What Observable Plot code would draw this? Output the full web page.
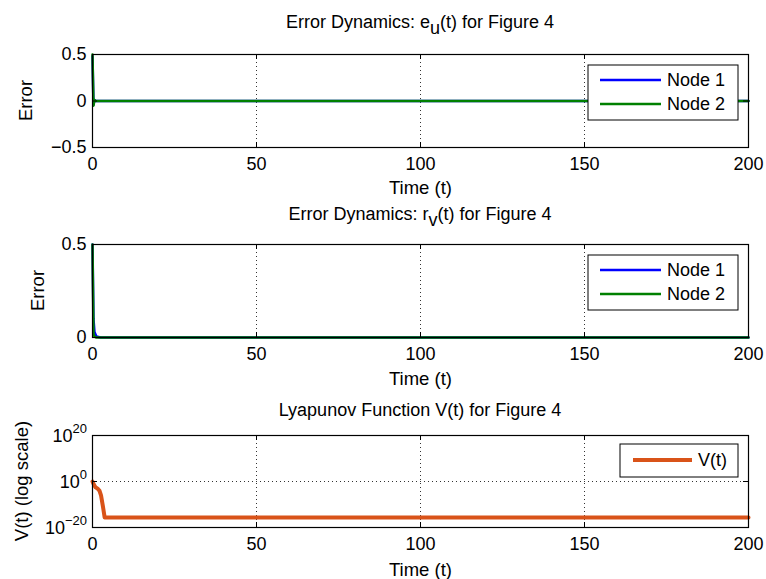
<!DOCTYPE html>
<html>
<head>
<meta charset="utf-8">
<script src="https://cdn.jsdelivr.net/npm/d3@7"></script>
<script src="https://cdn.jsdelivr.net/npm/@observablehq/plot@0.6"></script>
<style>
  html, body { margin: 0; padding: 0; background: #fff; }
  #wrap { position: relative; width: 766px; height: 579px; }
  #wrap > svg { display: block; }
</style>
</head>
<body>
<div id="wrap"></div>
<script>
// ---- data ----
const xTicks = [0, 50, 100, 150, 200];

// panel 1: e_u(t)
const tE = [0, 0.3, 0.6, 1.0, 2.0, 5.0, 200];
const eNode1 = [0.48, -0.04, 0.01, 0, 0, 0, 0];
const eNode2 = [0.5, -0.05, 0.01, 0, 0, 0, 0];
const yTicksE = [-0.5, 0, 0.5];
const yLabelsE = ["\u22120.5", "0", "0.5"];

// panel 2: r_v(t)
const tR = [0, 0.3, 0.6, 1.2, 2.5, 200];
const rNode1 = [0.5, 0.1, 0.03, 0.005, 0, 0];
const rNode2 = [0.5, 0.02, 0.005, 0, 0, 0];
const yTicksR = [0, 0.5];
const yLabelsR = ["0", "0.5"];

// panel 3: Lyapunov V(t)
const tV = [0, 0.4, 0.9, 1.5, 2.1, 2.6, 3.2, 3.7, 200];
const vVals = [1, 0.05, 3e-3, 1e-3, 1.2e-4, 1e-6, 1e-11, 2.5e-16, 2.5e-16];
const yTicksV = [1e-20, 1, 1e20];
const yExpV = ["\u221220", "0", "20"];

const FONT = "'Liberation Sans', Arial, Helvetica, sans-serif";
const W = 766, ML = 92, MR = 18;
const BLUE = "#0000ff", GREEN = "#008000", ORANGE = "#d95319";
const TICK_FS = 18, LABEL_FS = 18.5, TITLE_FS = 18, LEG_FS = 18;

const wrap = document.getElementById("wrap");

function panel({height, mt, mb, labelDy, y, yTicks, yLabels, series, title, ylabel, ylabelX, legend, legendBox, customY}) {
  const h = height - mt - mb;
  const w = W - ML - MR;
  const marks = [
    Plot.ruleX(xTicks.slice(1, -1), {stroke: "#000", strokeWidth: 0.8, strokeDasharray: "1,3"}),
    Plot.ruleY(yTicks.filter(v => v !== y.domain[0] && v !== y.domain[1]), {stroke: "#000", strokeWidth: 0.8, strokeDasharray: "1,3"}),
  ];
  for (const s of series) {
    const data = s.t.map((t, i) => ({t, v: s.v[i]}));
    marks.push(Plot.line(data, {x: "t", y: "v", stroke: s.color, strokeWidth: s.width}));
  }
  marks.push(
    Plot.tickX(xTicks, {x: d => d, insetTop: h - 5, stroke: "#000"}),
    Plot.tickX(xTicks, {x: d => d, insetBottom: h - 5, stroke: "#000"}),
    Plot.tickY(yTicks, {y: d => d, insetRight: w - 5, stroke: "#000"}),
    Plot.tickY(yTicks, {y: d => d, insetLeft: w - 5, stroke: "#000"}),
    Plot.frame({stroke: "#000", strokeWidth: 1.2}),
    Plot.text(["Time (t)"], {frameAnchor: "bottom", text: d => d, dy: labelDy, fontSize: LABEL_FS, lineAnchor: "bottom", fill: "#000"})
  );
  const plot = Plot.plot({
    width: W, height,
    marginLeft: ML, marginRight: MR, marginTop: mt, marginBottom: mb,
    style: {fontFamily: FONT, fontSize: TICK_FS + "px", color: "#000", background: "#fff", overflow: "visible"},
    x: {domain: [0, 200], ticks: xTicks, tickSize: 0, tickPadding: 10, label: null, tickFormat: d => String(d)},
    y: Object.assign({ticks: yTicks, tickSize: 0, tickPadding: 6, label: null,
        tickFormat: customY ? () => "" : (d => yLabels[yTicks.indexOf(d)])}, y),
    marks
  });
  const svg = d3.select(plot);
  const ys = plot.scale("y");
  if (customY) {
    yTicks.forEach((v, i) => {
      const t = svg.append("text").attr("x", ML - 5).attr("y", ys.apply(v) + 7)
        .attr("text-anchor", "end").style("font-family", FONT).style("font-size", TICK_FS + "px");
      t.append("tspan").text("10");
      t.append("tspan").attr("dy", -9).style("font-size", "13px").text(customY[i]);
    });
  }
  // title
  const tt = svg.append("text").attr("x", ML + w / 2).attr("y", title.y)
    .attr("text-anchor", "middle").style("font-family", FONT).style("font-size", TITLE_FS + "px");
  title.parts.forEach(p => {
    if (p.sub) tt.append("tspan").attr("dy", 6).text(p.sub);
    else if (p.after) tt.append("tspan").attr("dy", -6).text(p.text);
    else tt.append("tspan").text(p.text);
  });
  // y label
  svg.append("text").attr("transform", `translate(${ylabelX},${mt + h / 2}) rotate(-90)`)
    .attr("text-anchor", "middle").attr("dy", "0.35em")
    .style("font-family", FONT).style("font-size", LABEL_FS + "px").text(ylabel);
  // legend
  const g = svg.append("g");
  g.append("rect").attr("x", legendBox.x).attr("y", legendBox.y).attr("width", legendBox.w).attr("height", legendBox.h)
    .attr("fill", "#fff").attr("stroke", "#000").attr("stroke-width", 1);
  legend.forEach((l, i) => {
    const yy = legendBox.y + l.dy + i * 24;
    g.append("line").attr("x1", legendBox.x + l.x1).attr("x2", legendBox.x + l.x2).attr("y1", yy).attr("y2", yy)
      .attr("stroke", l.color).attr("stroke-width", l.width);
    g.append("text").attr("x", legendBox.x + l.x2 + 6).attr("y", yy).attr("dy", "0.36em")
      .attr("text-anchor", "start")
      .style("font-family", FONT).style("font-size", LEG_FS + "px").text(l.label);
  });
  wrap.appendChild(plot);
}

panel({
  height: 193, mt: 54, mb: 46, labelDy: 46,
  y: {domain: [-0.5, 0.5]}, yTicks: yTicksE, yLabels: yLabelsE,
  series: [{t: tE, v: eNode1, color: BLUE, width: 2.5}, {t: tE, v: eNode2, color: GREEN, width: 2.5}],
  title: {y: 28, parts: [{text: "Error Dynamics: e"}, {sub: "u"}, {after: true, text: "(t) for Figure 4"}]},
  ylabel: "Error", ylabelX: 26,
  legend: [{label: "Node 1", color: BLUE, width: 2.5, x1: 12, x2: 73, dy: 15}, {label: "Node 2", color: GREEN, width: 2.5, x1: 12, x2: 73, dy: 15}],
  legendBox: {x: 588, y: 65, w: 150, h: 55}
});

panel({
  height: 193, mt: 51, mb: 49, labelDy: 47,
  y: {domain: [0, 0.5]}, yTicks: yTicksR, yLabels: yLabelsR,
  series: [{t: tR, v: rNode1, color: BLUE, width: 2.5}, {t: tR, v: rNode2, color: GREEN, width: 2.5}],
  title: {y: 27, parts: [{text: "Error Dynamics: r"}, {sub: "v"}, {after: true, text: "(t) for Figure 4"}]},
  ylabel: "Error", ylabelX: 38,
  legend: [{label: "Node 1", color: BLUE, width: 2.5, x1: 12, x2: 73, dy: 15}, {label: "Node 2", color: GREEN, width: 2.5, x1: 12, x2: 73, dy: 15}],
  legendBox: {x: 588, y: 62, w: 150, h: 55}
});

panel({
  height: 193, mt: 49, mb: 52, labelDy: 48,
  y: {type: "log", domain: [1e-20, 1e20]}, yTicks: yTicksV, customY: yExpV,
  series: [{t: tV, v: vVals, color: ORANGE, width: 4}],
  title: {y: 30, parts: [{text: "Lyapunov Function V(t) for Figure 4"}]},
  ylabel: "V(t) (log scale)", ylabelX: 22,
  legend: [{label: "V(t)", color: ORANGE, width: 4, x1: 13, x2: 72, dy: 16}],
  legendBox: {x: 620, y: 58, w: 118, h: 33}
});
</script>
</body>
</html>
